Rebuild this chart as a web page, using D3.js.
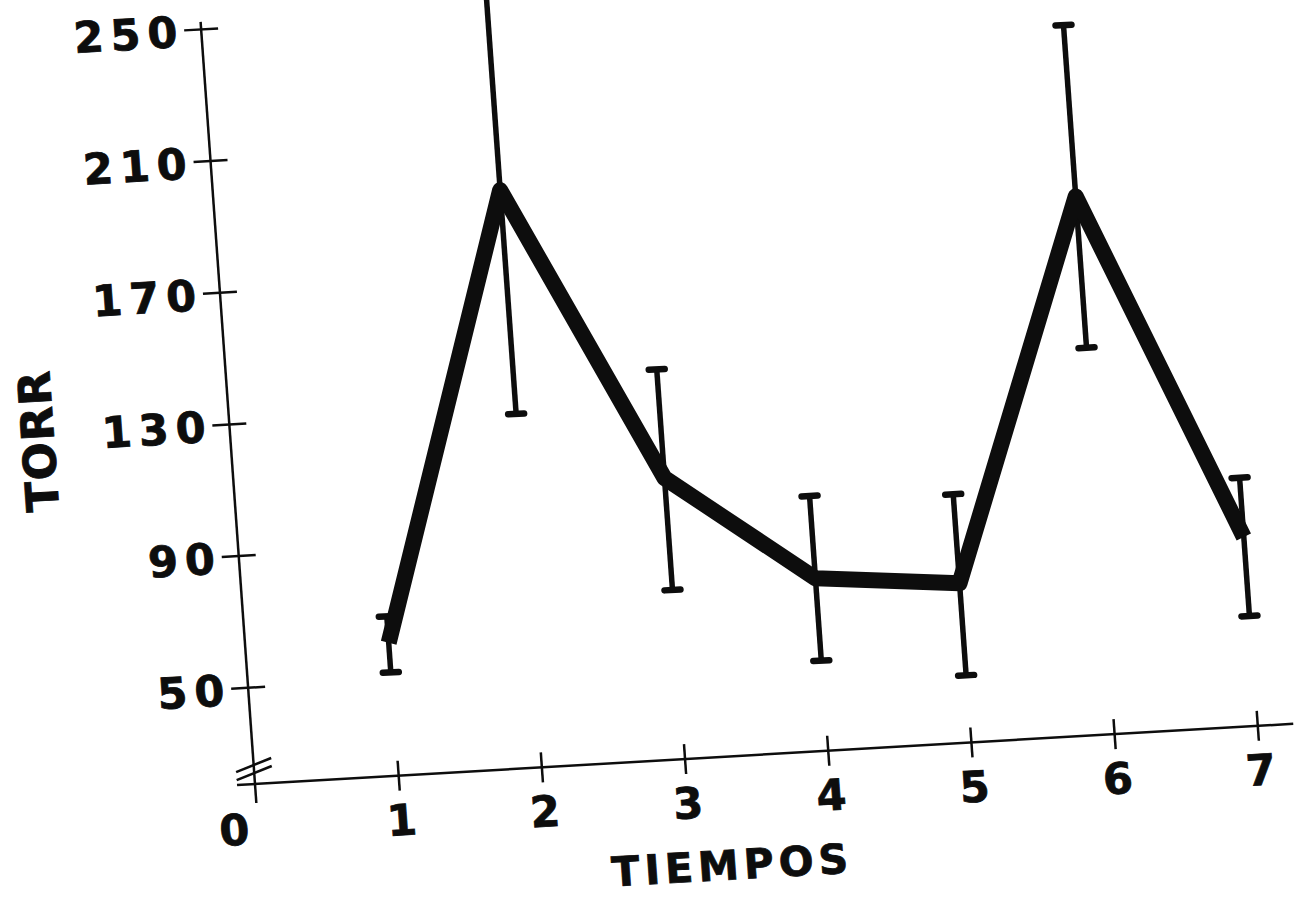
<!DOCTYPE html>
<html lang="es">
<head>
  <meta charset="UTF-8">
  <title>TORR / TIEMPOS</title>
  <style>
    * { margin: 0; padding: 0; box-sizing: border-box; }
    body { background: #fff; width: 1300px; height: 902px; overflow: hidden; }
    svg text {
      font-family: "DejaVu Sans", sans-serif;
      font-weight: bold;
      fill: #0d0d0d;
      stroke: #0d0d0d;
      stroke-width: 0.8px;
    }
  </style>
</head>
<body>
  <svg id="chart"></svg>

  <script src="https://d3js.org/d3.v7.min.js"></script>
  <script>
    // values
    const tiempos = [1, 2, 3, 4, 5, 6, 7];
    const media = [61, 196, 106, 73, 69, 184, 78];
    const superior = [69, 264, 139, 98, 96, 236, 96];
    const inferior = [52, 128, 72, 48, 41, 138, 54];
    const yTicks = [50, 90, 130, 170, 210, 250];

    const width = 1300;
    const height = 902;
    const ink = "#0d0d0d";

    const svg = d3.select("#chart")
      .attr("width", width)
      .attr("height", height);

    // the original sheet was scanned a little crooked, so the whole plot
    // lives in a slightly rotated frame with its origin at the axis corner
    const frame = svg.append("g")
      .attr("transform", "matrix(0.9983,-0.0579,0.0712,0.9975,255,784)");

    const x = d3.scaleLinear().domain([0, 7]).range([0, 1004]);
    const y = d3.scaleLinear().domain([50, 250]).range([-97, -757]);

    // axis lines (y axis has a break just above the corner)
    frame.append("line")
      .attr("x1", 0).attr("x2", 0)
      .attr("y1", y(250) - 7).attr("y2", 19)
      .attr("stroke", ink).attr("stroke-width", 2.5);

    frame.append("line")
      .attr("x1", -18).attr("x2", x(7) + 36)
      .attr("y1", 0).attr("y2", 0)
      .attr("stroke", ink).attr("stroke-width", 2.5);

    [-19, -11].forEach(off => {
      frame.append("line")
        .attr("x1", -18).attr("y1", off + 6)
        .attr("x2", 18).attr("y2", off - 6)
        .attr("stroke", ink).attr("stroke-width", 2.5);
    });

    // y axis ticks cross the line
    const yAxis = frame.append("g")
      .call(d3.axisLeft(y).tickValues(yTicks).tickSize(17).tickPadding(0).tickFormat(d3.format("d")));
    yAxis.select(".domain").remove();
    yAxis.attr("font-size", 43).attr("font-family", null);
    yAxis.selectAll(".tick line")
      .attr("x1", 17)
      .attr("stroke", ink)
      .attr("stroke-width", 2.5);
    yAxis.selectAll(".tick text")
      .attr("dy", "0.38em")
      .style("letter-spacing", "7px");

    const xAxis = frame.append("g")
      .call(d3.axisBottom(x).tickValues(tiempos).tickSize(15).tickPadding(14).tickFormat(d3.format("d")));
    xAxis.select(".domain").remove();
    xAxis.attr("font-size", 43).attr("font-family", null);
    xAxis.selectAll(".tick line")
      .attr("y1", -15)
      .attr("stroke", ink)
      .attr("stroke-width", 2.5);

    // the "0" at the corner
    frame.append("text")
      .attr("x", x(0) - 24)
      .attr("y", 60)
      .attr("text-anchor", "middle")
      .attr("font-size", 43)
      .text("0");

    // axis titles
    frame.append("text")
      .attr("x", x(3.28))
      .attr("y", 123)
      .attr("text-anchor", "middle")
      .attr("font-size", 41)
      .style("letter-spacing", "5px")
      .text("TIEMPOS");

    frame.append("text")
      .attr("transform", "translate(-192,-355) rotate(-90)")
      .attr("text-anchor", "middle")
      .attr("dy", "0.36em")
      .attr("font-size", 45)
      .style("letter-spacing", "1px")
      .text("TORR");

    // error bars
    const bars = frame.append("g")
      .attr("stroke", ink)
      .selectAll("g")
      .data(tiempos.map((t, i) => ({ t, lo: inferior[i], hi: superior[i] })))
      .join("g");

    bars.append("line")
      .attr("x1", d => x(d.t)).attr("x2", d => x(d.t))
      .attr("y1", d => y(d.lo)).attr("y2", d => y(d.hi))
      .attr("stroke-width", 5.5);

    bars.selectAll("line.cap")
      .data(d => [{ t: d.t, v: d.lo }, { t: d.t, v: d.hi }])
      .join("line")
      .attr("class", "cap")
      .attr("x1", d => x(d.t) - 8).attr("x2", d => x(d.t) + 8)
      .attr("y1", d => y(d.v)).attr("y2", d => y(d.v))
      .attr("stroke-width", 6.5)
      .attr("stroke-linecap", "round");

    // mean line
    const line = d3.line()
      .x(i => x(tiempos[i]))
      .y(i => y(media[i]));

    frame.append("path")
      .attr("d", line(d3.range(tiempos.length)))
      .attr("fill", "none")
      .attr("stroke", ink)
      .attr("stroke-width", 16)
      .attr("stroke-linejoin", "round");
  </script>
</body>
</html>
